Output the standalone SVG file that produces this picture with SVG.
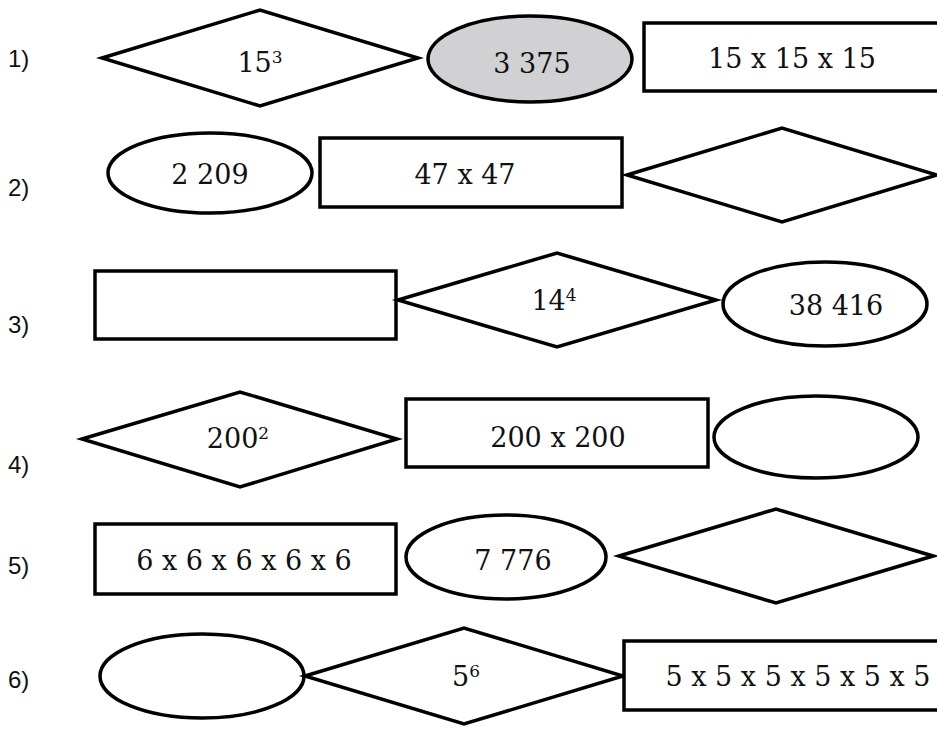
<svg xmlns="http://www.w3.org/2000/svg" width="937" height="738" viewBox="0 0 937 738">
<style>
.s{fill:#fff;stroke:#000;stroke-width:3.5;stroke-miterlimit:10}
.g{fill:#d1d0d2;stroke:#000;stroke-width:3.5}
.t{font-family:"DejaVu Serif","Liberation Serif",serif;font-size:27px;fill:#111;text-anchor:middle}
.sup{font-size:17px}
.l{font-family:"Liberation Sans",Arial,sans-serif;font-size:24px;fill:#111}
</style>
<rect width="937" height="738" fill="#fff"/>
<g id="labels">
<text class="l" x="8" y="67">1)</text>
<text class="l" x="8" y="196">2)</text>
<text class="l" x="8" y="333">3)</text>
<text class="l" x="8" y="473">4)</text>
<text class="l" x="8" y="574">5)</text>
<text class="l" x="8" y="688">6)</text>
</g>
<g id="connectors"/>
<g id="r1-diamond"><polygon class="s" points="102,58 260,10 418,58 260,106"/><text class="t" x="260" y="72">15<tspan class="sup" dy="-9">3</tspan></text></g>
<g id="r1-ellipse"><ellipse class="g" cx="530" cy="59" rx="102" ry="43"/><text class="t" x="532" y="73">3 375</text></g>
<g id="r1-rect"><rect class="s" x="644" y="23" width="310" height="68"/><text class="t" x="792" y="68">15 x 15 x 15</text></g>

<g id="r2-ellipse"><ellipse class="s" cx="210" cy="173" rx="102" ry="40"/><text class="t" x="210" y="184">2 209</text></g>
<g id="r2-rect"><rect class="s" x="320" y="138" width="302" height="69"/><text class="t" x="465" y="184">47 x 47</text></g>
<g id="r2-diamond"><polygon class="s" points="627,175 782,128 937,175 782,222"/></g>

<g id="r3-rect"><rect class="s" x="95" y="271" width="301" height="68"/></g>
<g id="r3-diamond"><polygon class="s" points="398,300 557,253 716,300 557,347"/><text class="t" x="554" y="310">14<tspan class="sup" dy="-9">4</tspan></text></g>
<g id="r3-ellipse"><ellipse class="s" cx="825" cy="304" rx="102" ry="42"/><text class="t" x="836" y="315">38 416</text></g>

<g id="r4-diamond"><polygon class="s" points="82,439 240,392 397,439 240,487"/><text class="t" x="238" y="448">200<tspan class="sup" dy="-9">2</tspan></text></g>
<g id="r4-rect"><rect class="s" x="406" y="399" width="302" height="68"/><text class="t" x="558" y="447">200 x 200</text></g>
<g id="r4-ellipse"><ellipse class="s" cx="816" cy="437" rx="102" ry="41"/></g>

<g id="r5-rect"><rect class="s" x="95" y="524" width="301" height="70"/><text class="t" x="244" y="570">6 x 6 x 6 x 6 x 6</text></g>
<g id="r5-ellipse"><ellipse class="s" cx="506" cy="557" rx="100" ry="42"/><text class="t" x="513" y="570">7 776</text></g>
<g id="r5-diamond"><polygon class="s" points="619,556 776,509 933,556 776,603"/></g>

<g id="r6-ellipse"><ellipse class="s" cx="202" cy="676" rx="102" ry="42"/></g>
<g id="r6-diamond"><polygon class="s" points="305,676 464,628 623,676 464,724"/><text class="t" x="466" y="686">5<tspan class="sup" dy="-9">6</tspan></text></g>
<g id="r6-rect"><rect class="s" x="624" y="641" width="330" height="69"/><text class="t" x="798" y="686">5 x 5 x 5 x 5 x 5 x 5</text></g>
</svg>
